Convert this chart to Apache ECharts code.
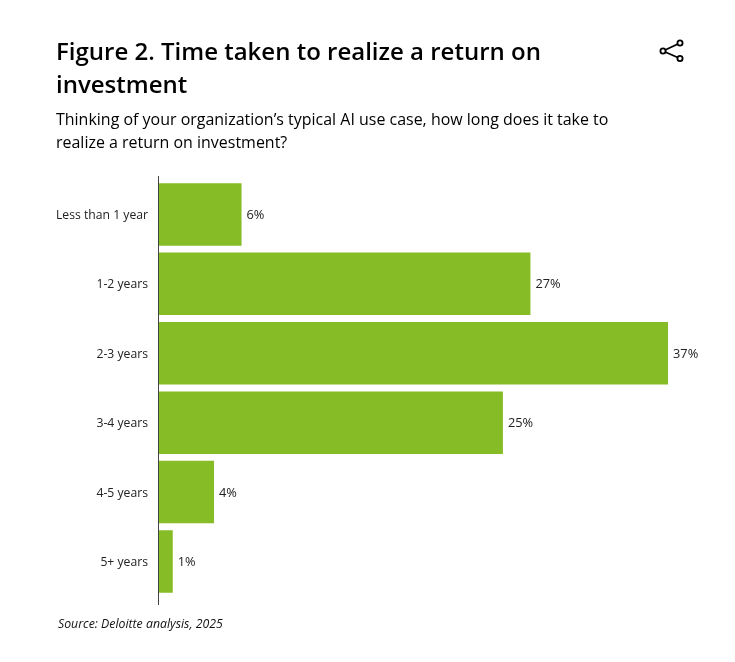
<!DOCTYPE html>
<html>
<head>
<meta charset="utf-8">
<style>html,body{margin:0;padding:0;background:#fff}#c{width:735px;height:662px}</style>
<script src="https://cdn.jsdelivr.net/npm/echarts@6/dist/echarts.min.js"></script>
</head>
<body>
<div id="c"></div>
<script>
const categories = ['Less than 1 year', '1-2 years', '2-3 years', '3-4 years', '4-5 years', '5+ years'];
const values = [6, 27, 37, 25, 4, 1];
const titleText = 'Figure 2. Time taken to realize a return on\ninvestment';
const subtitleText = 'Thinking of your organization’s typical AI use case, how long does it take to\nrealize a return on investment?';
const sourceText = 'Source: Deloitte analysis, 2025';

const chart = echarts.init(document.getElementById('c'), null, {renderer: 'canvas'});
const font = '"Open Sans", sans-serif';
chart.setOption({
  animation: false,
  backgroundColor: '#fff',
  title: [
    {text: titleText, left: 51, top: 32, textStyle: {fontFamily: font, fontSize: 24, fontWeight: 600, color: '#000', lineHeight: 33}},
    {text: subtitleText, left: 51, top: 104, textStyle: {fontFamily: font, fontSize: 15.97, fontWeight: 400, color: '#000', lineHeight: 23}},
    {text: sourceText, left: 53, top: 611, textStyle: {fontFamily: font, fontSize: 12.3, fontWeight: 400, fontStyle: 'italic', color: '#111', lineHeight: 17}}
  ],
  grid: {left: 159, top: 179.7, width: 509, height: 416.5, containLabel: false},
  xAxis: {type: 'value', min: 0, max: 37, show: false},
  yAxis: {
    type: 'category', data: categories, inverse: true,
    axisLine: {show: false}, axisTick: {show: false},
    axisLabel: {fontFamily: font, fontSize: 12.2, color: '#222', margin: 11, lineHeight: 16, verticalAlign: 'top', padding: [-7, 0, 0, 0]}
  },
  series: [{
    type: 'bar', data: values, barWidth: 62.5,
    itemStyle: {color: '#86BC25'},
    label: {show: true, position: 'right', distance: 5, offset: [0, 1], formatter: '{c}%', fontFamily: font, fontSize: 12.8, color: '#222'}
  }],
  graphic: [
    {type: 'line', shape: {x1: 158.5, y1: 176, x2: 158.5, y2: 605}, style: {stroke: '#444', lineWidth: 1}, z: 10},
    {type: 'group', children: [
      {type: 'line', shape: {x1: 663, y1: 51, x2: 680, y2: 43}, style: {stroke: '#000', lineWidth: 1.8}},
      {type: 'line', shape: {x1: 663, y1: 51, x2: 680, y2: 58.5}, style: {stroke: '#000', lineWidth: 1.8}},
      {type: 'circle', shape: {cx: 663, cy: 51, r: 2.6}, style: {fill: '#fff', stroke: '#000', lineWidth: 1.8}},
      {type: 'circle', shape: {cx: 680, cy: 43, r: 2.6}, style: {fill: '#fff', stroke: '#000', lineWidth: 1.8}},
      {type: 'circle', shape: {cx: 680, cy: 58.5, r: 2.6}, style: {fill: '#fff', stroke: '#000', lineWidth: 1.8}}
    ]}
  ]
});
</script>
</body>
</html>
